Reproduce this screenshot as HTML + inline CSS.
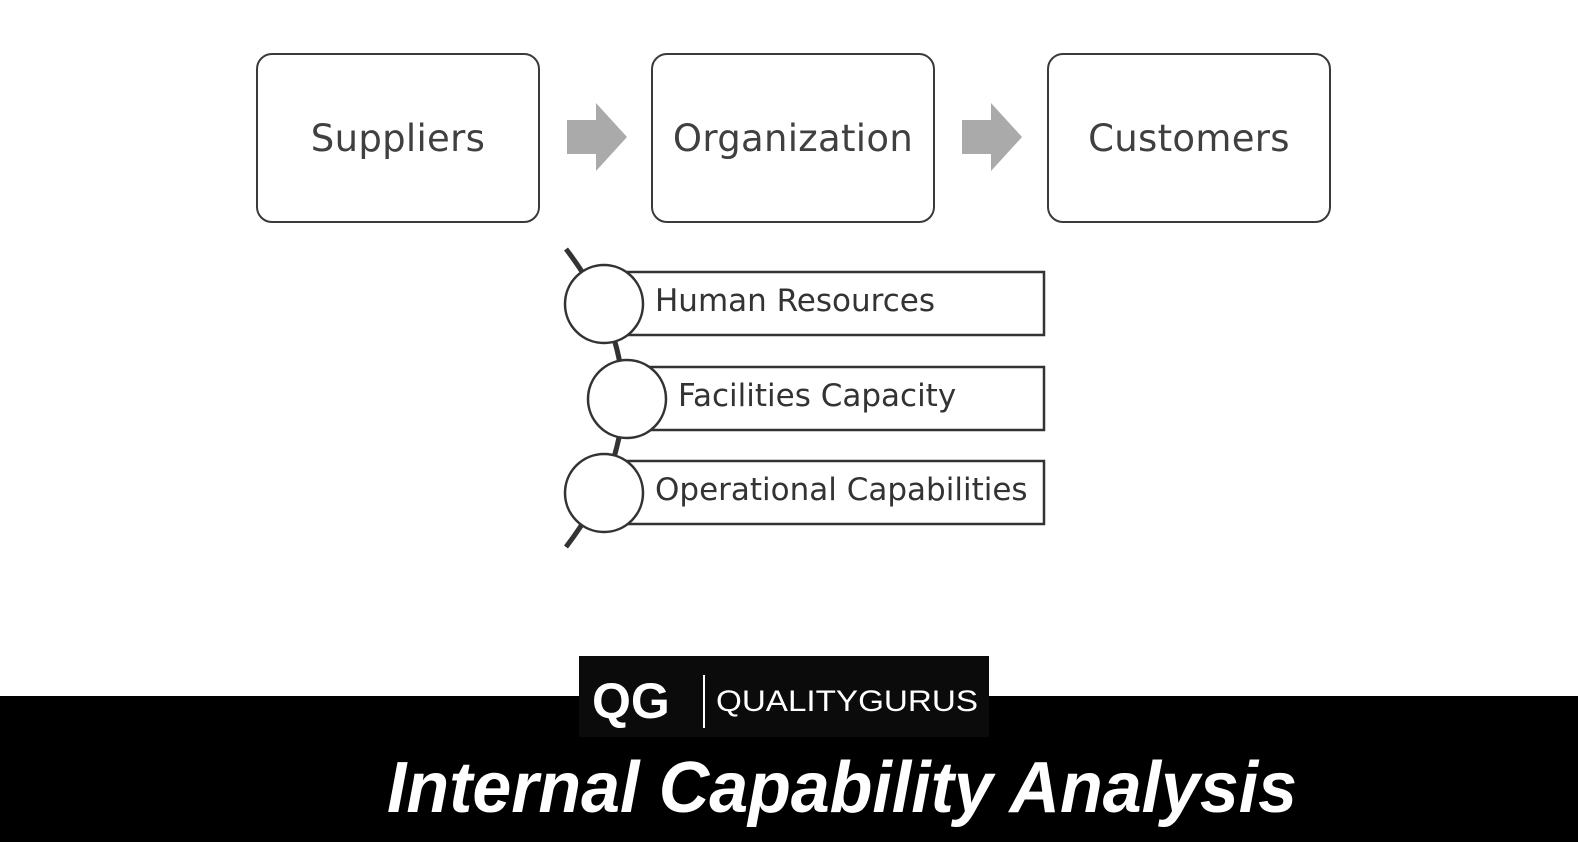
<!DOCTYPE html>
<html><head><style>
body{margin:0;width:1578px;height:842px;background:#fff;position:relative;overflow:hidden;font-family:"Liberation Sans",sans-serif}
.box{position:absolute;top:53px;width:280px;height:166px;border:2px solid #3a3a3a;border-radius:16px;display:flex;align-items:center;justify-content:center;font-size:37px;color:#404040;font-family:"DejaVu Sans","Liberation Sans",sans-serif;letter-spacing:0.3px}
.lbl{position:absolute;font-family:"DejaVu Sans","Liberation Sans",sans-serif;font-size:31px;color:#333}
</style></head><body>
<div class="box" style="left:256px">Suppliers</div>
<div class="box" style="left:651px">Organization</div>
<div class="box" style="left:1047px">Customers</div>
<svg width="1578" height="842" style="position:absolute;left:0;top:0">
<polygon points="567,120 596,120 596,103 627,137 596,171 596,154 567,154" fill="#aaa"/>
<polygon points="962,120 991,120 991,103 1022,137 991,171 991,154 962,154" fill="#aaa"/>
<path d="M566,249 Q680,398 566,547" stroke="#333" stroke-width="5" fill="none"/>
<rect x="600" y="272" width="444" height="63" fill="#fff" stroke="#333" stroke-width="2.5"/>
<rect x="622" y="367" width="422" height="63" fill="#fff" stroke="#333" stroke-width="2.5"/>
<rect x="600" y="461" width="444" height="63" fill="#fff" stroke="#333" stroke-width="2.5"/>
<circle cx="604" cy="304" r="39" fill="#fff" stroke="#333" stroke-width="2.5"/>
<circle cx="627" cy="399" r="39" fill="#fff" stroke="#333" stroke-width="2.5"/>
<circle cx="604" cy="493" r="39" fill="#fff" stroke="#333" stroke-width="2.5"/>
<rect x="0" y="696" width="1578" height="146" fill="#000"/>
<rect x="579" y="656" width="410" height="81" fill="#0b0b0b"/>
<text x="592" y="718" fill="#fff" font-family="Liberation Sans" font-weight="bold" font-size="50">QG</text>
<line x1="704" y1="675" x2="704" y2="728" stroke="#fff" stroke-width="2"/>
<text x="716" y="711" fill="#fff" font-family="Liberation Sans" font-size="30" textLength="262" lengthAdjust="spacingAndGlyphs">QUALITYGURUS</text>
<text x="387" y="812" fill="#fff" font-family="Liberation Sans" font-weight="bold" font-style="italic" font-size="72" textLength="910" lengthAdjust="spacingAndGlyphs">Internal Capability Analysis</text>
</svg>
<div class="lbl" style="left:655px;top:283px">Human Resources</div>
<div class="lbl" style="left:678px;top:378px">Facilities Capacity</div>
<div class="lbl" style="left:655px;top:472px">Operational Capabilities</div>
</body></html>
